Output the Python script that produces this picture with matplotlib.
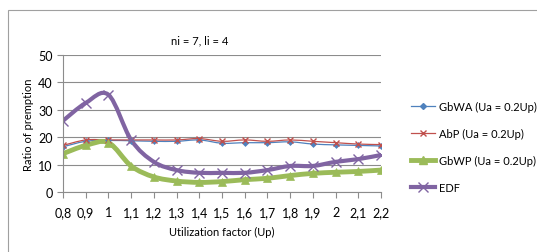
import numpy as np
import matplotlib.pyplot as plt
from matplotlib.path import Path
from matplotlib.patches import PathPatch, Rectangle
from matplotlib.lines import Line2D

up = [0.8, 0.9, 1.0, 1.1, 1.2, 1.3, 1.4, 1.5, 1.6, 1.7, 1.8, 1.9, 2.0, 2.1, 2.2]
up_labels = ["0,8", "0,9", "1", "1,1", "1,2", "1,3", "1,4", "1,5", "1,6",
             "1,7", "1,8", "1,9", "2", "2,1", "2,2"]
gbwa = [16.5, 18.5, 18.8, 18.7, 18.5, 18.5, 19.0, 17.8, 18.0, 18.0, 18.3, 17.5, 17.2, 17.0, 16.8]
abp = [17.0, 19.0, 19.0, 19.0, 19.0, 19.0, 19.5, 18.5, 19.0, 18.5, 19.0, 18.5, 18.0, 17.5, 17.3]
gbwp = [14.0, 17.0, 18.0, 9.5, 5.5, 4.0, 3.5, 3.8, 4.5, 5.0, 6.0, 6.8, 7.2, 7.5, 8.0]
edf = [26.0, 32.5, 35.5, 19.0, 11.0, 8.0, 7.0, 7.0, 7.0, 8.0, 9.5, 9.5, 11.0, 12.0, 13.5]


def smooth_path(x, y, t=1/6):
    # excel-like smoothed line: bezier segments through the points
    x = np.asarray(x, float)
    y = np.asarray(y, float)
    verts = [(x[0], y[0])]
    codes = [Path.MOVETO]
    n = len(x)
    for i in range(n - 1):
        p0 = i - 1 if i > 0 else i
        p3 = i + 2 if i + 2 < n else i + 1
        c1 = (x[i] + (x[i + 1] - x[p0]) * t, y[i] + (y[i + 1] - y[p0]) * t)
        c2 = (x[i + 1] - (x[p3] - x[i]) * t, y[i + 1] - (y[p3] - y[i]) * t)
        verts += [c1, c2, (x[i + 1], y[i + 1])]
        codes += [Path.CURVE4] * 3
    return Path(verts, codes)


plt.rcParams['font.family'] = ['Lato', 'DejaVu Sans']
plt.rcParams['font.size'] = 8

fig = plt.figure(figsize=(5.37, 2.53), dpi=100)
ax = fig.add_axes([63 / 537, 1 - 193 / 253, (381 - 63) / 537, (193 - 56) / 253])

series = [
    ("GbWA (Ua = 0.2Up)", gbwa, "#4F81BD", 0.9, "D", 3.0),
    ("AbP (Ua = 0.2Up)", abp, "#C0504D", 0.9, "x", 4.0),
    ("GbWP (Ua = 0.2Up)", gbwp, "#9BBB59", 3.5, "^", 6.0),
    ("EDF", edf, "#8064A2", 3.0, "x", 7.0),
]
handles = []
for name, vals, col, lw, mk, ms in series:
    ax.add_patch(PathPatch(smooth_path(up, vals), fill=False, edgecolor=col,
                           lw=lw, capstyle='round', joinstyle='round'))
    ax.plot(up, vals, linestyle='none', marker=mk, color=col, ms=ms,
            mew=1.0 if mk == "x" else 0.5)
    handles.append(Line2D([], [], color=col, lw=lw, marker=mk, ms=ms))

ax.set_xlim(0.8, 2.2)
ax.set_ylim(0, 50)
ax.set_xticks(up)
ax.set_xticklabels(up_labels)
ax.set_yticks(range(0, 51, 10))
ax.grid(axis='y', color='#8C8C8C', lw=0.8)
ax.set_axisbelow(True)
for s in ['top', 'right']:
    ax.spines[s].set_visible(False)
for s in ['left', 'bottom']:
    ax.spines[s].set_color('#8C8C8C')
ax.tick_params(axis='both', colors='#8C8C8C', labelcolor='black', length=4,
               labelsize=9)
ax.tick_params(axis='x', pad=6)
ax.set_xlabel("Utilization factor (Up)", fontsize=8, labelpad=6)
ax.set_ylabel("Ratio of premption", fontsize=8, labelpad=3)

fig.text(200 / 537, 1 - 41 / 253, "ni = 7, li = 4", ha='center', va='center',
         fontsize=8)
fig.legend(handles, [s[0] for s in series], loc='center left',
           bbox_to_anchor=(401 / 537, 1 - 148 / 253), frameon=False,
           labelspacing=1.45, handlelength=2.2, handletextpad=0.3,
           fontsize=8)
fig.patches.append(Rectangle((8 / 537, -0.1), 1.0, 1 - 11 / 253 + 0.1,
                             transform=fig.transFigure, fill=False,
                             edgecolor='#A0A0A0', lw=0.8))
fig.savefig("out.png", dpi=100)
